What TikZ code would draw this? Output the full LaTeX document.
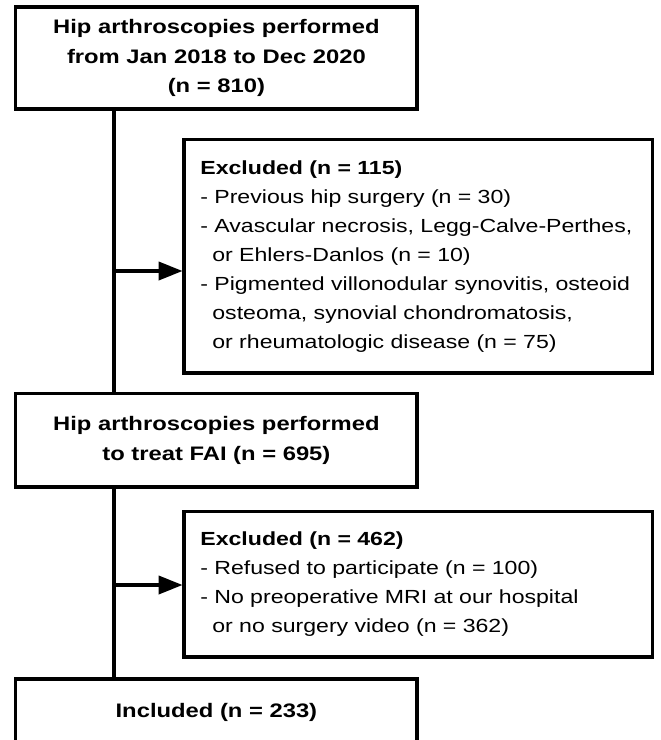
\documentclass[tikz,border=0pt]{standalone}
\usepackage{fontspec}
\setmainfont{Liberation Sans}[FakeStretch=1.217]
\usepackage{tikz}
\usetikzlibrary{arrows.meta,positioning}

\begin{document}
\begin{tikzpicture}[
    stage/.style={rectangle, draw, line width=2.2pt, inner sep=0pt,
                  minimum width=10.03cm, align=center,
                  font=\fontsize{13.9}{21}\selectfont\bfseries},
    excl/.style={rectangle, draw, line width=2.2pt, inner xsep=0.41cm, inner ysep=0pt,
                 text width=10.9cm, align=left,
                 font=\fontsize{13.5}{20.6}\selectfont},
    flow/.style={line width=2.2pt},
    >={Triangle[length=17pt,width=13pt]}
]
\clip (0,0) rectangle (16.5,-18.5);

% --- Main column ---
\node[stage, minimum height=2.55cm] (start) at (5.41,-1.45)
  {Hip arthroscopies performed\\from Jan 2018 to Dec 2020\\(n = 810)};
\node[stage, minimum height=2.33cm] (fai) at (5.41,-11.01)
  {Hip arthroscopies performed\\to treat FAI (n = 695)};
\node[stage, minimum height=1.65cm] (incl) at (5.41,-17.8)
  {Included (n = 233)};

% --- Exclusion boxes ---
\node[excl, minimum height=5.83cm] (excl1) at (10.46,-6.41)
  {\textbf{Excluded (n = 115)}\\
   - Previous hip surgery (n = 30)\\
   - Avascular necrosis, Legg-Calve-Perthes,\\
   \hspace*{0.3cm}or Ehlers-Danlos (n = 10)\\
   - Pigmented villonodular synovitis, osteoid\\
   \hspace*{0.3cm}osteoma, synovial chondromatosis,\\
   \hspace*{0.3cm}or rheumatologic disease (n = 75)};
\node[excl, minimum height=3.63cm] (excl2) at (10.46,-14.61)
  {\textbf{Excluded (n = 462)}\\
   - Refused to participate (n = 100)\\
   - No preoperative MRI at our hospital\\
   \hspace*{0.3cm}or no surgery video (n = 362)};

% --- Branch points on the trunk ---
\coordinate (b1) at (2.85,-6.775);
\coordinate (b2) at (2.85,-14.625);

% --- Trunk lines ---
\draw[flow] (start.south -| b1) -- (fai.north -| b1);
\draw[flow] (fai.south -| b2) -- (incl.north -| b2);

% --- Arrows to exclusions ---
\draw[flow,->] (b1) -- (b1 -| excl1.west);
\draw[flow,->] (b2) -- (b2 -| excl2.west);
\end{tikzpicture}
\end{document}
